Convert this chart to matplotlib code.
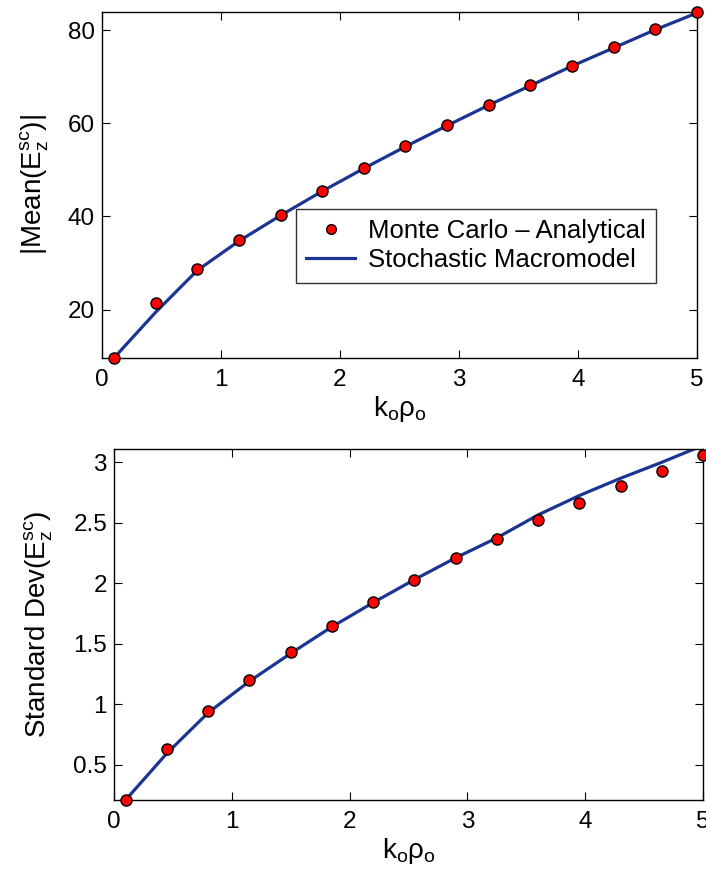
import matplotlib
matplotlib.use("Agg")
import matplotlib.pyplot as plt
from matplotlib.lines import Line2D

plt.rcParams['font.family'] = ['Liberation Sans', 'DejaVu Sans']
plt.rcParams['mathtext.fontset'] = 'custom'
plt.rcParams['mathtext.rm'] = 'Liberation Sans'
plt.rcParams['mathtext.it'] = 'Liberation Sans'

# Normalized radius k0*rho0
k_rho = [0.1, 0.45, 0.8, 1.15, 1.5, 1.85, 2.2, 2.55, 2.9, 3.25, 3.6, 3.95, 4.3, 4.65, 5.0]

# |Mean(Ez_sc)|
mean_mc = [9.6, 21.4, 28.8, 34.9, 40.3, 45.5, 50.4, 55.1, 59.6, 64.0, 68.2, 72.4, 76.3, 80.2, 83.8]
mean_model = [9.6, 19.4, 28.4, 34.7, 40.2, 45.4, 50.3, 55.0, 59.5, 63.9, 68.1, 72.3, 76.2, 80.1, 83.7]

# Standard deviation of Ez_sc
std_mc = [0.21, 0.63, 0.94, 1.20, 1.43, 1.65, 1.845, 2.03, 2.205, 2.37, 2.52, 2.665, 2.80, 2.925, 3.06]
std_model = [0.21, 0.595, 0.93, 1.19, 1.42, 1.64, 1.84, 2.03, 2.21, 2.375, 2.565, 2.725, 2.868, 3.0, 3.14]

line_color = '#1c3592'
tick_fs = 17.5
label_fs = 20
legend_fs = 18.5

fig = plt.figure(figsize=(7.06, 8.77), dpi=100)
W, H = 706, 877
ax1 = fig.add_axes([102 / W, 1 - 358 / H, (697 - 102) / W, (358 - 12) / H])
ax2 = fig.add_axes([114 / W, 1 - 800 / H, (703 - 114) / W, (800 - 449) / H])

panels = [
    (ax1, mean_mc, mean_model, (9.6, 83.9), [20, 40, 60, 80], ['20', '40', '60', '80'],
     r'|Mean(E$_\mathregular{z}^\mathregular{sc}$)|', -0.085),
    (ax2, std_mc, std_model, (0.208, 3.11), [0.5, 1, 1.5, 2, 2.5, 3],
     ['0.5', '1', '1.5', '2', '2.5', '3'],
     r'Standard Dev(E$_\mathregular{z}^\mathregular{sc}$)', -0.1),
]

for ax, mc, model, ylim, yt, ytl, ylab, ylab_x in panels:
    ax.plot(k_rho, model, color=line_color, lw=2.3, zorder=2)
    ax.plot(k_rho, mc, 'o', ms=8, mfc='red', mec='black', mew=1.0,
            zorder=3, clip_on=False)
    ax.set_xlim(0, 5)
    ax.set_ylim(*ylim)
    ax.set_xticks([0, 1, 2, 3, 4, 5])
    ax.set_xticklabels(['0', '1', '2', '3', '4', '5'])
    ax.set_yticks(yt)
    ax.set_yticklabels(ytl)
    ax.tick_params(direction='in', length=6, width=0.8, top=True, right=True,
                   labelsize=tick_fs)
    ax.tick_params(axis='x', pad=8)
    ax.tick_params(axis='y', pad=5)
    for s in ax.spines.values():
        s.set_linewidth(1.0)
    ax.set_xlabel(r'k$_\mathregular{o}$ρ$_\mathregular{o}$', fontsize=label_fs, labelpad=2)
    ax.set_ylabel(ylab, fontsize=label_fs)
    ax.yaxis.set_label_coords(ylab_x, 0.5)

handles = [
    Line2D([], [], ls='none', marker='o', ms=7, mfc='red', mec='black', mew=1.0),
    Line2D([], [], color=line_color, lw=2.3),
]
leg = ax1.legend(handles, ['Monte Carlo – Analytical', 'Stochastic Macromodel'],
                 loc='upper left',
                 bbox_to_anchor=((296 - 102) / 595, 1 - (209 - 12) / 346),
                 borderaxespad=0, fontsize=legend_fs, frameon=True, fancybox=False,
                 edgecolor='black', handlelength=1.9, handletextpad=0.5,
                 borderpad=0.4, labelspacing=0.2)
leg.get_frame().set_linewidth(1.0)

fig.savefig('out.png', dpi=100)
